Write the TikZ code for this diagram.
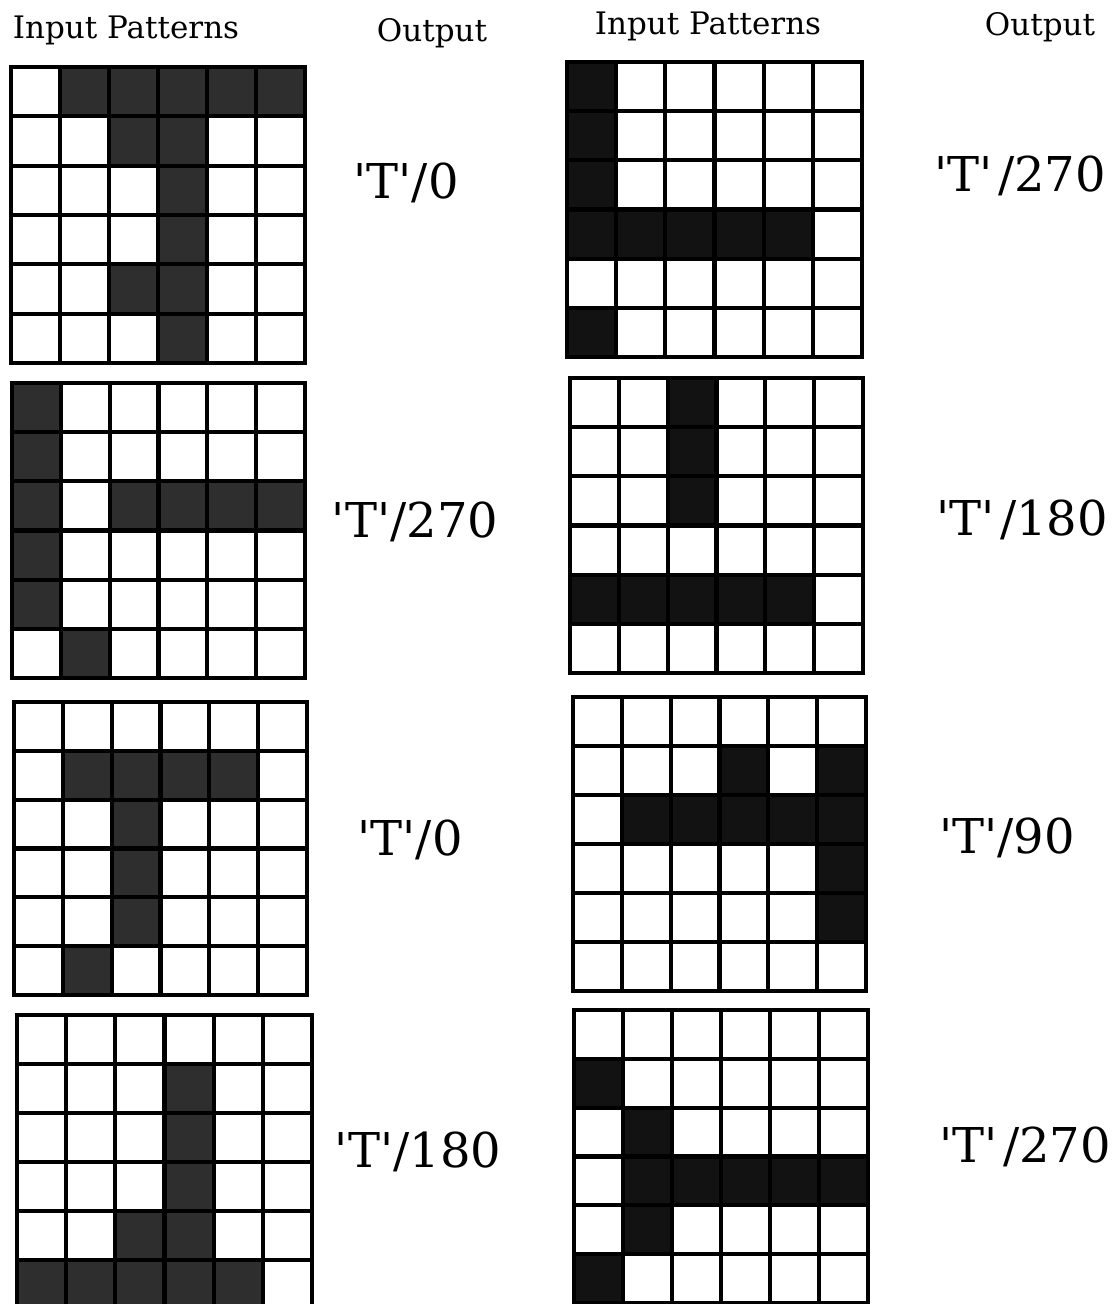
\documentclass[tikz,border=0pt]{standalone}
\usepackage{fontspec}
\setmainfont{DejaVu Serif}
\tikzset{
  gridline/.style={line width=4.2pt, line cap=rect},
  headlbl/.style={font=\fontsize{31}{36}\selectfont, inner sep=0pt},
  outlbl/.style={font=\fontsize{48}{56}\selectfont, inner sep=0pt},
  leftfill/.style={fill=black!82},
  rightfill/.style={fill=black!93},
}
\newcommand\patgrid[6]{%
  \pgfmathsetmacro\gw{(#3-#1)/6}%
  \pgfmathsetmacro\gh{(#4-#2)/6}%
  \foreach \c/\r in {#6}{\path[#5] ({#1+(\c-1)*\gw},{#2+(\r-1)*\gh}) rectangle ++(\gw,\gh);}%
  \foreach \i in {0,...,6}{%
    \draw[gridline] ({#1+\i*\gw},#2) -- ({#1+\i*\gw},#4);
    \draw[gridline] (#1,{#2+\i*\gh}) -- (#3,{#2+\i*\gh});
  }%
}
\newcommand\qT{\textquotesingle T\textquotesingle}
\begin{document}
\begin{tikzpicture}[x=1pt,y=-1pt]
\useasboundingbox (0,0) rectangle (1116,1304);
\fill[white] (0,0) rectangle (1116,1304);
\clip (0,0) rectangle (1116,1304);

% headers
\node[headlbl] (h1) at (126,30) {Input Patterns};
\node[headlbl] (h2) at (432,33) {Output};
\node[headlbl] (h3) at (708,26) {Input Patterns};
\node[headlbl] (h4) at (1040,27) {Output};

% left column grids
\patgrid{11}{67}{305}{363}{leftfill}{2/1,3/1,4/1,5/1,6/1,3/2,4/2,4/3,4/4,3/5,4/5,4/6}
\patgrid{12}{383}{305}{678}{leftfill}{1/1,1/2,1/3,3/3,4/3,5/3,6/3,1/4,1/5,2/6}
\patgrid{14}{702}{307}{995}{leftfill}{2/2,3/2,4/2,5/2,3/3,3/4,3/5,2/6}
\patgrid{17}{1015}{312}{1309}{leftfill}{4/2,4/3,4/4,3/5,4/5,1/6,2/6,3/6,4/6,5/6}

% right column grids
\patgrid{567}{62}{862}{357}{rightfill}{1/1,1/2,1/3,1/4,2/4,3/4,4/4,5/4,1/6}
\patgrid{570}{378}{863}{673}{rightfill}{3/1,3/2,3/3,1/5,2/5,3/5,4/5,5/5}
\patgrid{573}{697}{866}{991}{rightfill}{4/2,6/2,2/3,3/3,4/3,5/3,6/3,6/4,6/5}
\patgrid{574}{1010}{868}{1303}{rightfill}{1/2,2/3,2/4,3/4,4/4,5/4,6/4,2/5,1/6}

% outputs
\node[outlbl] (o1) at (406,183) {\qT/0};
\node[outlbl] (o2) at (415,522) {\qT/270};
\node[outlbl] (o3) at (410,840) {\qT/0};
\node[outlbl] (o4) at (418,1152) {\qT/180};
\node[outlbl] (o5) at (1020,176) {\qT\hspace{0.12em}/270};
\node[outlbl] (o6) at (1022,520) {\qT\hspace{0.12em}/180};
\node[outlbl] (o7) at (1007,838) {\qT/90};
\node[outlbl] (o8) at (1025,1147) {\qT\hspace{0.12em}/270};
\end{tikzpicture}
\end{document}
